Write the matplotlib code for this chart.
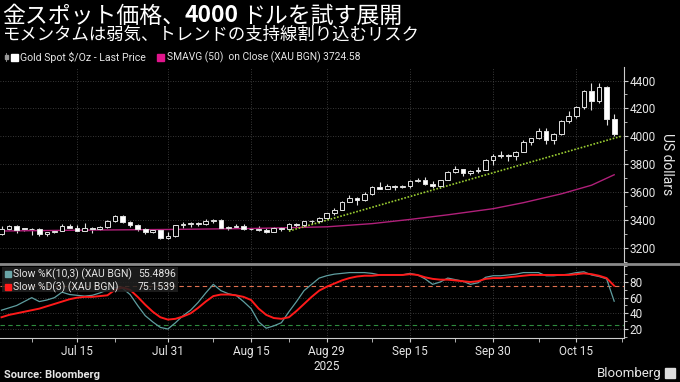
import numpy as np
import pandas as pd
import matplotlib
matplotlib.use("Agg")
import matplotlib.pyplot as plt
from matplotlib.patches import Rectangle
from matplotlib.lines import Line2D

# ---- data ----
start = "2025-07-01"
dates = pd.bdate_range(start, "2025-10-22")

opens = [3303, 3338, 3357, 3340, 3337, 3335, 3301, 3313, 3324, 3355,
         3343, 3324, 3347, 3339, 3350, 3397, 3431, 3387, 3368, 3337,
         3314, 3326, 3275, 3289, 3363, 3373, 3381, 3369, 3396, 3398,
         3342, 3348, 3356, 3335, 3336, 3332, 3315, 3347, 3339, 3372,
         3365, 3393, 3397, 3416, 3448, 3476, 3533, 3560, 3545, 3587,
         3636, 3626, 3641, 3634, 3643, 3679, 3690, 3659, 3644, 3685,
         3746, 3763, 3736, 3749, 3760, 3833, 3858, 3866, 3857, 3886,
         3960, 3985, 4040, 3976, 4017, 4110, 4143, 4209, 4326, 4251,
         4356, 4125]
highs = [3358, 3365, 3365, 3345, 3343, 3345, 3317, 3330, 3369, 3375,
         3366, 3377, 3352, 3361, 3402, 3434, 3439, 3393, 3373, 3345,
         3334, 3334, 3315, 3363, 3385, 3390, 3390, 3408, 3409, 3405,
         3358, 3374, 3375, 3345, 3358, 3345, 3351, 3351, 3379, 3376,
         3393, 3398, 3423, 3454, 3490, 3540, 3578, 3565, 3600, 3643,
         3674, 3657, 3650, 3655, 3685, 3703, 3707, 3680, 3686, 3749,
         3791, 3768, 3761, 3782, 3835, 3872, 3895, 3875, 3896, 3977,
         3991, 4059, 4058, 4022, 4116, 4179, 4218, 4330, 4380, 4381,
         4359, 4161]
lows = [3296, 3328, 3311, 3322, 3296, 3287, 3283, 3310, 3322, 3341,
        3320, 3319, 3310, 3332, 3343, 3383, 3381, 3351, 3325, 3301,
        3308, 3268, 3268, 3281, 3347, 3354, 3358, 3367, 3381, 3342,
        3331, 3345, 3330, 3331, 3323, 3311, 3312, 3324, 3321, 3352,
        3351, 3373, 3379, 3405, 3436, 3471, 3528, 3511, 3540, 3578,
        3620, 3620, 3613, 3630, 3633, 3675, 3655, 3628, 3633, 3684,
        3737, 3718, 3722, 3740, 3758, 3792, 3846, 3820, 3830, 3885,
        3940, 3983, 3945, 3947, 4008, 4097, 4130, 4196, 4190, 4236,
        4082, 4005]
closes = [3338, 3357, 3326, 3336, 3335, 3301, 3313, 3324, 3355, 3343,
          3324, 3347, 3339, 3350, 3397, 3431, 3387, 3368, 3337, 3314,
          3326, 3275, 3289, 3363, 3373, 3381, 3369, 3396, 3398, 3342,
          3348, 3356, 3335, 3336, 3332, 3315, 3347, 3339, 3372, 3365,
          3393, 3397, 3416, 3448, 3476, 3533, 3560, 3545, 3587, 3636,
          3626, 3641, 3634, 3643, 3679, 3690, 3659, 3644, 3685, 3746,
          3763, 3736, 3749, 3760, 3833, 3858, 3866, 3857, 3886, 3960,
          3985, 4040, 3976, 4017, 4110, 4143, 4209, 4326, 4251, 4356,
          4125, 4015]

sma_dates = ["2025-07-01", "2025-07-15", "2025-07-31", "2025-08-15", "2025-08-29",
             "2025-09-08", "2025-09-15", "2025-09-22", "2025-09-30", "2025-10-06",
             "2025-10-13", "2025-10-17", "2025-10-22"]
sma_values = [3322, 3328, 3333, 3340, 3352, 3375, 3405, 3438, 3482, 3525, 3588, 3650, 3725]

trend_dates = ["2025-08-22", "2025-10-23"]
trend_values = [3322, 4002]

slow_k = [44, 47, 50, 55, 60, 55, 57, 60, 67, 64, 63, 62, 63, 66, 70, 73, 72, 64, 50, 37,
          29, 22, 20, 28, 37, 44, 54, 66, 77, 69, 65, 63, 55, 46, 29, 21, 24, 28, 42, 55,
          69, 77, 85, 88, 90, 91, 92, 92, 92, 91, 89, 89, 89, 89, 91, 89, 84, 77, 80, 85,
          83, 81, 77, 79, 86, 88, 88, 89, 90, 92, 92, 92, 88, 88, 89, 90, 92, 93, 89, 87,
          84, 55.49]
slow_d = [35, 38, 40, 42, 44, 46, 49, 52, 55, 58, 60, 61, 61, 62, 63, 70, 73, 70, 61, 51,
          42, 35, 32, 33, 36, 40, 47, 55, 62, 64, 64, 63, 61, 57, 46, 38, 34, 33, 35, 43,
          52, 61, 69, 74, 78, 82, 85, 87, 88, 88, 89, 89, 89, 89, 90, 89, 86, 84, 83, 83,
          82, 81, 80, 81, 84, 85, 85, 86, 87, 88, 89, 89, 89, 89, 89, 89, 90, 91, 90, 88,
          85, 75.15]

tick_dates = ["2025-07-15", "2025-07-31", "2025-08-15", "2025-08-29",
              "2025-09-15", "2025-09-30", "2025-10-15"]
tick_labels = ["Jul 15", "Jul 31", "Aug 15", "Aug 29\n2025", "Sep 15", "Sep 30", "Oct 15"]
minor_dates = ["2025-07-07", "2025-07-22", "2025-08-08", "2025-08-22",
               "2025-09-08", "2025-09-23", "2025-10-08", "2025-10-23"]


def pos(d):
    return np.busday_count(start, np.datetime64(d, "D"))


cjk = ["Noto Sans CJK JP", "DejaVu Sans"]
lat = ["Roboto", "DejaVu Sans"]
txt = "#e6e6e6"
grid_c = "#4a4a4a"

x = np.array([pos(d.strftime("%Y-%m-%d")) for d in dates])
o = np.array(opens); h = np.array(highs); l = np.array(lows); c = np.array(closes)

fig = plt.figure(figsize=(6.8, 3.82), dpi=100, facecolor="black")
W, H = 680, 382
ax = fig.add_axes([0, 1 - 262 / H, 624 / W, (262 - 67) / H])
ax2 = fig.add_axes([0, 1 - 338 / H, 624 / W, (338 - 265) / H], sharex=ax)

for a in (ax, ax2):
    a.set_facecolor("black")
    for s in ("left", "top", "bottom"):
        a.spines[s].set_visible(False)
    a.spines["right"].set_color("#cccccc")
    a.spines["right"].set_linewidth(0.8)
    a.yaxis.tick_right()
    a.tick_params(axis="y", which="both", colors="#cccccc", labelcolor=txt,
                  labelsize=8.5, direction="out", pad=1)
    a.tick_params(axis="y", which="major", length=3)
    a.tick_params(axis="y", which="minor", length=2)

# candles
up = c >= o
body_lo = np.minimum(o, c)
body_h = np.maximum(np.abs(c - o), 4)
ax.vlines(x, l, h, color="#e0e0e0", lw=0.8, zorder=2)
ax.bar(x, body_h, bottom=body_lo, width=0.62,
       color=np.where(up, "black", "white"), edgecolor="#e0e0e0", linewidth=0.7, zorder=3)

ax.plot([pos(d) for d in sma_dates], sma_values, color="#b0207a", lw=1.0, zorder=2)
ax.plot([pos(d) for d in trend_dates], trend_values, color="#9acd32", lw=1.2,
        ls=(0, (1, 1)), zorder=2)

ax.set_ylim(3144, 4497)
ax.set_yticks(np.arange(3200, 4401, 200))
ax.set_yticks(np.arange(3100, 4500, 100), minor=True)
ax.grid(True, which="major", color=grid_c, ls=(0, (1, 2)), lw=0.6)
ax.tick_params(axis="x", which="both", length=0, labelbottom=False)
ax.yaxis.set_label_position("right")
ax.set_ylabel("US dollars", color=txt, fontsize=10, rotation=270, labelpad=13, family=lat)

# stochastic panel
ax2.plot(x, slow_k, color="#5f9ea0", lw=0.9, zorder=3)
ax2.plot(x, slow_d, color="#ff1a1a", lw=1.4, zorder=4)
ax2.axhline(75, color="#e07050", ls=(0, (4, 3)), lw=0.8, zorder=2)
ax2.axhline(25, color="#2e8b3e", ls=(0, (4, 3)), lw=0.8, zorder=2)
ax2.set_ylim(8.5, 101.7)
ax2.set_yticks([20, 40, 60, 80])
ax2.set_yticks(np.arange(10, 101, 10), minor=True)
ax2.grid(True, which="major", color=grid_c, ls=(0, (1, 2)), lw=0.6)
ax2.spines["bottom"].set_visible(True)
ax2.spines["bottom"].set_color("#cccccc")
ax2.spines["bottom"].set_linewidth(0.8)

ax2.set_xticks([pos(d) for d in tick_dates])
ax2.set_xticklabels(tick_labels)
ax2.set_xticks([pos(d) for d in minor_dates], minor=True)
ax2.tick_params(axis="x", which="both", colors="#cccccc", labelcolor=txt,
                labelsize=8.5, direction="out", length=3, pad=2)
ax.set_xlim(-0.2, 82.3)

for a in (ax, ax2):
    for lab in a.get_xticklabels() + a.get_yticklabels():
        lab.set_family(lat)

# separator between panels
fig.add_artist(Line2D([0, 1], [1 - 263.5 / H] * 2, color="#8a8a8a", lw=2))

# lower legend
fig.add_artist(Rectangle((2 / W, 1 - 292 / H), 176 / W, 25 / H,
                         facecolor="#202020", alpha=0.85, zorder=5))
fig.add_artist(Rectangle((5 / W, 1 - 277 / H), 6 / W, 6 / H, color="#6aa6a8", zorder=6))
fig.add_artist(Rectangle((5 / W, 1 - 290 / H), 6 / W, 6 / H, color="#ff1a1a", zorder=6))
fig.text(13 / W, 1 - 274 / H, "Slow %K(10,3) (XAU BGN)", color=txt, fontsize=7.5,
         family=lat, va="center", zorder=7)
fig.text(13 / W, 1 - 287 / H, "Slow %D(3) (XAU BGN)", color=txt, fontsize=7.5,
         family=lat, va="center", zorder=7)
fig.text(138 / W, 1 - 274 / H, "55.4896", color=txt, fontsize=7.5, family=lat,
         va="center", zorder=7)
fig.text(138 / W, 1 - 287 / H, "75.1539", color=txt, fontsize=7.5, family=lat,
         va="center", zorder=7)

# top legend
fig.add_artist(Line2D([6 / W] * 2, [1 - 61 / H, 1 - 53 / H], color="#999999", lw=0.6))
fig.add_artist(Rectangle((5 / W, 1 - 59 / H), 2.5 / W, 4 / H, color="#999999"))
fig.add_artist(Rectangle((11 / W, 1 - 61 / H), 7 / W, 7 / H, color="white"))
fig.text(20 / W, 1 - 57 / H, "Gold Spot $/Oz - Last Price", color=txt, fontsize=7.6,
         family=lat, va="center")
fig.add_artist(Rectangle((157 / W, 1 - 61 / H), 7 / W, 7 / H, color="#e0158c"))
fig.text(167 / W, 1 - 57 / H, "SMAVG (50)  on Close (XAU BGN) 3724.58", color=txt,
         fontsize=7.4, family=lat, va="center")

# title
fig.canvas.draw()
r = fig.canvas.get_renderer()
t1 = fig.text(2 / W, 1 - 16 / H, "金スポット価格、", color="white", fontsize=16.5,
              family=cjk, va="center")
x1 = t1.get_window_extent(r).x1 / W
t2 = fig.text(x1, 1 - 16 / H, "4000", color="white", fontsize=16.5, weight="bold",
              family=cjk, va="center")
x2 = t2.get_window_extent(r).x1 / W
fig.text(x2 + 3 / W, 1 - 16 / H, "ドルを試す展開", color="white", fontsize=16.5,
         family=cjk, va="center")
fig.text(2 / W, 1 - 35 / H, "モメンタムは弱気、トレンドの支持線割り込むリスク",
         color="white", fontsize=12.5, family=cjk, va="center")

# footer
fig.text(4 / W, 1 - 375 / H, "Source: Bloomberg", color=txt, fontsize=8, weight="bold",
         family=lat, va="center")
fig.text(661 / W, 1 - 373 / H, "Bloomberg", color=txt, fontsize=9.5, family=lat,
         va="center", ha="right")
fig.add_artist(Rectangle((665 / W, 1 - 378 / H), 10 / W, 10 / H, color="#dddddd"))

fig.savefig("out.png", dpi=100, facecolor="black")
